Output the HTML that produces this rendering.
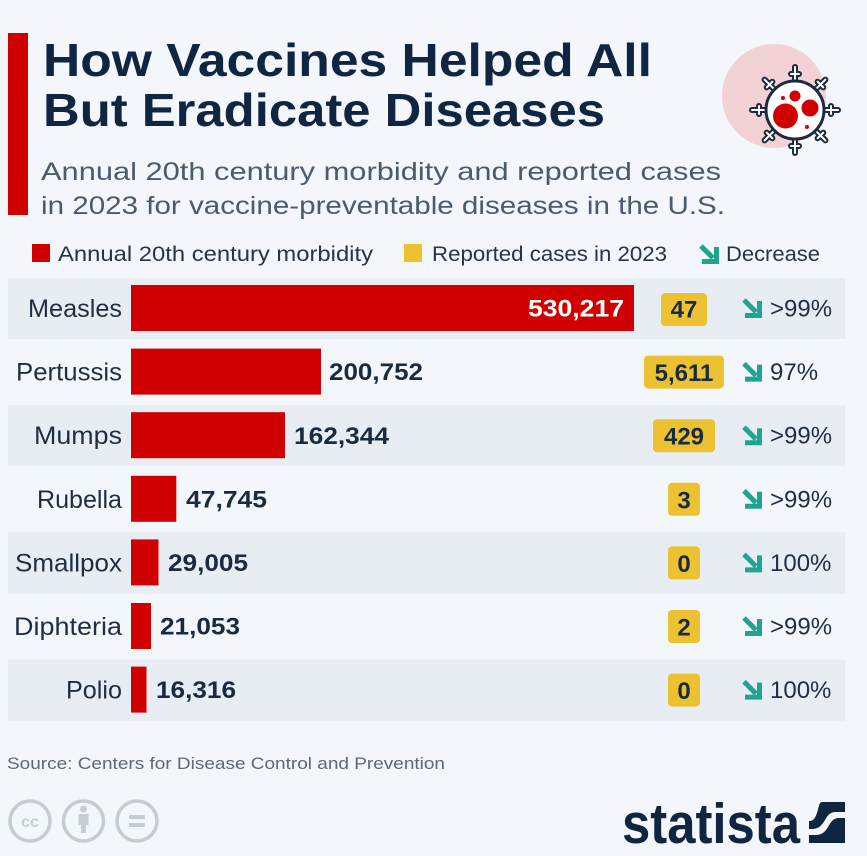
<!DOCTYPE html>
<html>
<head>
<meta charset="utf-8">
<style>
html,body{margin:0;padding:0;background:#f3f6fa;}
svg{display:block;}
text{font-family:"Liberation Sans",sans-serif;}
</style>
</head>
<body>
<svg width="867" height="856" viewBox="0 0 867 856" xmlns="http://www.w3.org/2000/svg">
<rect x="0" y="0" width="867" height="856" fill="#f3f6fa"/>

<!-- red accent bar -->
<rect x="8" y="33" width="20" height="182" fill="#d10000"/>

<!-- Title -->
<text x="43" y="76" font-size="46" font-weight="bold" fill="#0f2541" textLength="609" lengthAdjust="spacingAndGlyphs">How Vaccines Helped All</text>
<text x="43" y="126" font-size="46" font-weight="bold" fill="#0f2541" textLength="562" lengthAdjust="spacingAndGlyphs">But Eradicate Diseases</text>

<!-- Subtitle -->
<text x="41" y="180" font-size="25" fill="#4b5b6e" textLength="680" lengthAdjust="spacingAndGlyphs">Annual 20th century morbidity and reported cases</text>
<text x="41" y="214" font-size="25" fill="#4b5b6e" textLength="684" lengthAdjust="spacingAndGlyphs">in 2023 for vaccine-preventable diseases in the U.S.</text>

<!-- Icon -->
<circle cx="774" cy="96" r="52" fill="#f2d2d5"/>
<defs>
  <g id="spk">
    <line x1="0" y1="-28" x2="0" y2="-43"/>
    <line x1="-4" y1="-36" x2="4" y2="-36"/>
  </g>
</defs>
<g transform="translate(795,110)">
  <g stroke="#1c2b3d" stroke-width="6" stroke-linecap="round">
    <use href="#spk"/>
    <use href="#spk" transform="rotate(45)"/>
    <use href="#spk" transform="rotate(90)"/>
    <use href="#spk" transform="rotate(135)"/>
    <use href="#spk" transform="rotate(180)"/>
    <use href="#spk" transform="rotate(225)"/>
    <use href="#spk" transform="rotate(270)"/>
    <use href="#spk" transform="rotate(315)"/>
  </g>
  <g stroke="#ffffff" stroke-width="2" stroke-linecap="round">
    <use href="#spk"/>
    <use href="#spk" transform="rotate(45)"/>
    <use href="#spk" transform="rotate(90)"/>
    <use href="#spk" transform="rotate(135)"/>
    <use href="#spk" transform="rotate(180)"/>
    <use href="#spk" transform="rotate(225)"/>
    <use href="#spk" transform="rotate(270)"/>
    <use href="#spk" transform="rotate(315)"/>
  </g>
  <circle cx="0" cy="0" r="29" fill="#ffffff" stroke="#1c2b3d" stroke-width="3"/>
</g>
<circle cx="785.5" cy="116" r="12.5" fill="#d10000"/>
<circle cx="810" cy="108" r="8.5" fill="#d10000"/>
<circle cx="795" cy="96" r="5.5" fill="#d10000"/>
<circle cx="783" cy="98" r="2" fill="#d10000"/>
<circle cx="807" cy="127" r="2" fill="#d10000"/>

<!-- Legend -->
<rect x="32" y="244" width="18" height="18" fill="#d10000"/>
<text x="58" y="261" font-size="21" fill="#263445" textLength="315" lengthAdjust="spacingAndGlyphs">Annual 20th century morbidity</text>
<rect x="404" y="244" width="18" height="18" fill="#ecc232"/>
<text x="432" y="261" font-size="21" fill="#263445" textLength="235" lengthAdjust="spacingAndGlyphs">Reported cases in 2023</text>
<g transform="translate(699,244)" stroke="#1fa58f" stroke-width="5" fill="none">
  <path d="M2 2 L14 14"/>
  <path d="M17.5 3 V17.5 H3" stroke-linejoin="miter"/>
</g>
<text x="726" y="261" font-size="21" fill="#263445" textLength="94" lengthAdjust="spacingAndGlyphs">Decrease</text>

<!-- Row bands -->
<rect x="8" y="278" width="837" height="61" fill="#e8edf4"/>
<rect x="8" y="405.2" width="837" height="61" fill="#e8edf4"/>
<rect x="8" y="532.4" width="837" height="61" fill="#e8edf4"/>
<rect x="8" y="659.6" width="837" height="61" fill="#e8edf4"/>

<!-- Row labels -->
<g font-size="25" fill="#1f2e42" text-anchor="end">
  <text x="122" y="317" textLength="94" lengthAdjust="spacingAndGlyphs">Measles</text>
  <text x="122" y="380.6" textLength="106" lengthAdjust="spacingAndGlyphs">Pertussis</text>
  <text x="122" y="444.2" textLength="88" lengthAdjust="spacingAndGlyphs">Mumps</text>
  <text x="122" y="507.8" textLength="85" lengthAdjust="spacingAndGlyphs">Rubella</text>
  <text x="122" y="571.4" textLength="107" lengthAdjust="spacingAndGlyphs">Smallpox</text>
  <text x="122" y="635" textLength="108" lengthAdjust="spacingAndGlyphs">Diphteria</text>
  <text x="122" y="698.6" textLength="56" lengthAdjust="spacingAndGlyphs">Polio</text>
</g>

<!-- Bars -->
<g fill="#d10000">
  <rect x="131" y="285" width="503" height="46"/>
  <rect x="131" y="348.6" width="190" height="46"/>
  <rect x="131" y="412.2" width="154" height="46"/>
  <rect x="131" y="475.8" width="45.3" height="46"/>
  <rect x="131" y="539.4" width="27.5" height="46"/>
  <rect x="131" y="603" width="20" height="46"/>
  <rect x="131" y="666.6" width="15.5" height="46"/>
</g>

<!-- Values -->
<g font-size="24" font-weight="bold" fill="#1a2b40">
  <text x="624" y="316.6" fill="#ffffff" text-anchor="end" textLength="96" lengthAdjust="spacingAndGlyphs">530,217</text>
  <text x="329" y="380.2" textLength="94" lengthAdjust="spacingAndGlyphs">200,752</text>
  <text x="294" y="443.8" textLength="95" lengthAdjust="spacingAndGlyphs">162,344</text>
  <text x="186" y="507.4" textLength="81" lengthAdjust="spacingAndGlyphs">47,745</text>
  <text x="168" y="571" textLength="80" lengthAdjust="spacingAndGlyphs">29,005</text>
  <text x="160" y="634.6" textLength="80" lengthAdjust="spacingAndGlyphs">21,053</text>
  <text x="156" y="698.2" textLength="80" lengthAdjust="spacingAndGlyphs">16,316</text>
</g>

<!-- Yellow boxes -->
<g fill="#ecc232">
  <rect x="661" y="293" width="46" height="33" rx="4"/>
  <rect x="644" y="355.6" width="80" height="33" rx="4"/>
  <rect x="653" y="419.2" width="62" height="33" rx="4"/>
  <rect x="668" y="482.8" width="32" height="33" rx="4"/>
  <rect x="668" y="546.4" width="32" height="33" rx="4"/>
  <rect x="668" y="610" width="32" height="33" rx="4"/>
  <rect x="668" y="673.6" width="32" height="33" rx="4"/>
</g>
<g font-size="24" font-weight="bold" fill="#1a2b40" text-anchor="middle">
  <text x="684" y="317.5">47</text>
  <text x="684" y="381.1">5,611</text>
  <text x="684" y="444.7">429</text>
  <text x="684" y="508.3">3</text>
  <text x="684" y="571.9">0</text>
  <text x="684" y="635.5">2</text>
  <text x="684" y="699.1">0</text>
</g>

<!-- Decrease arrows -->
<defs>
  <g id="arr" stroke="#1fa58f" stroke-width="5" fill="none">
    <path d="M2 2 L14 14"/>
    <path d="M17.5 3 V17.5 H3"/>
  </g>
</defs>
<use href="#arr" x="742" y="298"/>
<use href="#arr" x="742" y="361.6"/>
<use href="#arr" x="742" y="425.2"/>
<use href="#arr" x="742" y="488.8"/>
<use href="#arr" x="742" y="552.4"/>
<use href="#arr" x="742" y="616"/>
<use href="#arr" x="742" y="679.6"/>

<g font-size="24" fill="#1f2e42">
  <text x="770" y="316.5">&gt;99%</text>
  <text x="770" y="380.1">97%</text>
  <text x="770" y="443.7">&gt;99%</text>
  <text x="770" y="507.3">&gt;99%</text>
  <text x="770" y="570.9">100%</text>
  <text x="770" y="634.5">&gt;99%</text>
  <text x="770" y="698.1">100%</text>
</g>

<!-- Source -->
<text x="7" y="769" font-size="17" fill="#5b6877" textLength="438" lengthAdjust="spacingAndGlyphs">Source: Centers for Disease Control and Prevention</text>

<!-- CC icons -->
<g stroke="#c6ccd4" stroke-width="3.5" fill="none">
  <circle cx="30" cy="821" r="20"/>
  <circle cx="83.5" cy="821" r="20"/>
  <circle cx="137" cy="821" r="20"/>
</g>
<text x="30" y="827" font-size="16" font-weight="bold" fill="#c6ccd4" text-anchor="middle">cc</text>
<g fill="#c6ccd4">
  <circle cx="83.5" cy="809" r="3.5"/>
  <rect x="78.5" y="814" width="10" height="11"/>
  <rect x="81" y="824" width="5" height="9"/>
  <rect x="129" y="815" width="16" height="4"/>
  <rect x="129" y="823" width="16" height="4"/>
</g>

<!-- statista logo -->
<text x="622" y="843" font-size="57" font-weight="bold" fill="#0f2540" textLength="178" lengthAdjust="spacingAndGlyphs">statista</text>
<g fill="#0f2540">
  <path d="M822 802 H845 V812 H836 C830 812 828 815 825 820 C822 825 819 829 812 829 H809 V821 C814 821 815 818 817 813 C819 807 819 802 822 802 Z"/>
  <path d="M809 843 H845 V818 H839 C833 818 831 822 828 827 C825 832 822 835 815 835 H809 Z"/>
</g>
</svg>
</body>
</html>
